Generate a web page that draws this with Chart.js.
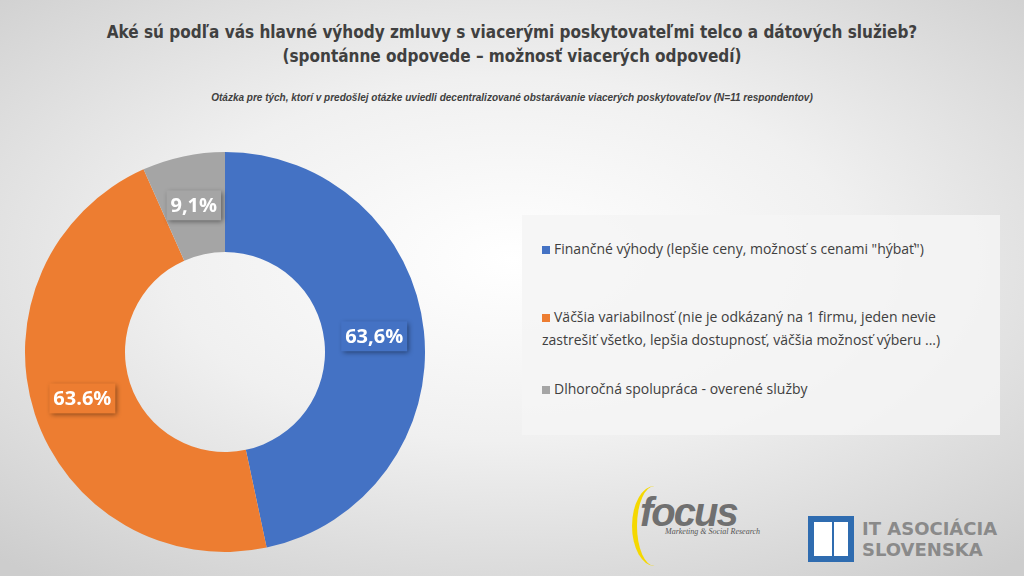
<!DOCTYPE html>
<html><head><meta charset="utf-8">
<script src="https://cdn.jsdelivr.net/npm/chart.js@4"></script>
<style>
body{margin:0;width:1024px;height:576px;overflow:hidden;font-family:Calibri,"Liberation Sans Narrow","Open Sans",sans-serif;
 background:radial-gradient(ellipse 75% 70% at 50% 45%,#ffffff 0%,#f0f0f0 45%,#cdcdcd 100%);position:relative}
#t{position:absolute;top:20px;left:0;width:1024px;text-align:center;font-size:17px;font-weight:bold;color:#404040;line-height:24px;font-family:"Liberation Sans Narrow","DejaVu Sans Condensed",sans-serif}
#s{position:absolute;top:92px;left:0;width:1024px;text-align:center;font-size:10px;font-style:italic;font-weight:bold;color:#404040;font-family:"Liberation Sans Narrow",sans-serif}
#wrap{position:absolute;left:25px;top:152px;width:400px;height:400px}
#leg{position:absolute;left:522px;top:215px;width:478px;height:220px;background:rgba(245,245,245,.85);font-family:"Open Sans",sans-serif;font-size:14px;color:#404040}
.it{position:absolute;left:20px;width:445px;line-height:23px}
.it span{display:inline-block;width:8px;height:8px;margin-right:4px}
#logo1{position:absolute;left:640px;top:490px;font:italic bold 40px "Liberation Sans",sans-serif;color:#707070;letter-spacing:-2px}
#logo1 small{display:block;font:italic 8px "Liberation Serif",serif;letter-spacing:0;color:#555;margin:-8px 0 0 25px}
#logo1 i{position:absolute;left:-8px;top:-4px;width:40px;height:80px;border-left:5px solid #f5d800;border-radius:50% 0 0 50%}
#logo2{position:absolute;left:808px;top:516px;width:46px;height:46px;background:#2f6cb0;border:2px solid #2f6cb0;box-sizing:border-box}
#logo2 b{position:absolute;inset:4px;background:#fff}
#logo2 em{position:absolute;left:22px;top:0;width:2px;height:100%;background:#2f6cb0}
#logo2t{position:absolute;left:862px;top:518px;font:bold 18px "DejaVu Sans",sans-serif;color:#8a8a8a;line-height:21px}
</style></head><body>
<div id="t">Aké sú podľa vás hlavné výhody zmluvy s viacerými poskytovateľmi telco a dátových služieb?<br>(spontánne odpovede – možnosť viacerých odpovedí)</div>
<div id="s">Otázka pre tých, ktorí v predošlej otázke uviedli decentralizované obstarávanie viacerých poskytovateľov (N=11 respondentov)</div>
<div id="wrap"><canvas id="c"></canvas></div>
<div id="leg"></div>
<div id="logo1"><i></i>focus<small>Marketing &amp; Social Research</small></div>
<div id="logo2"><b></b><em></em></div>
<div id="logo2t">IT ASOCIÁCIA<br>SLOVENSKA</div>
<script>
var categories=['Finančné výhody (lepšie ceny, možnosť s cenami "hýbať")',
 'Väčšia variabilnosť (nie je odkázaný na 1 firmu, jeden nevie zastrešiť všetko, lepšia dostupnosť, väčšia možnosť výberu ...)',
 'Dlhoročná spolupráca - overené služby'];
var values=[63.6,63.6,9.1];
var labelTexts=['63,6%','63.6%','9,1%'];
var colors=['#4472c4','#ed7d31','#a5a5a5'];
var legTops=[22,90,162];

var leg=document.getElementById('leg');
categories.forEach(function(c,i){
  var d=document.createElement('div');d.className='it';d.style.top=legTops[i]+'px';
  d.innerHTML='<span style="background:'+colors[i]+'"></span>'+c;leg.appendChild(d);
});

var boxLabels={id:'boxLabels',afterDatasetsDraw:function(ch){
  var ctx=ch.ctx,meta=ch.getDatasetMeta(0);
  meta.data.forEach(function(arc,i){
    var p=arc.getProps(['startAngle','endAngle','innerRadius','outerRadius','x','y'],true);
    var a=(p.startAngle+p.endAngle)/2,r=(p.innerRadius+p.outerRadius)/2;
    var x=p.x+Math.cos(a)*r,y=p.y+Math.sin(a)*r;
    ctx.save();ctx.font='bold 20px "Open Sans",sans-serif';
    var w=ctx.measureText(labelTexts[i]).width+8,h=30;
    ctx.shadowColor='rgba(0,0,0,.45)';ctx.shadowBlur=5;ctx.shadowOffsetX=2;ctx.shadowOffsetY=2;
    ctx.fillStyle=colors[i];ctx.fillRect(x-w/2,y-h/2,w,h);
    ctx.shadowColor='transparent';ctx.fillStyle='#fff';ctx.textAlign='center';ctx.textBaseline='middle';
    ctx.fillText(labelTexts[i],x,y+1);ctx.restore();
  });
}};

new Chart(document.getElementById('c'),{type:'doughnut',
  data:{labels:categories,datasets:[{data:values,backgroundColor:colors,borderWidth:0}]},
  options:{responsive:true,maintainAspectRatio:false,animation:false,cutout:'50%',
    plugins:{legend:{display:false},tooltip:{enabled:false}}},
  plugins:[boxLabels]});
</script>
</body></html>
